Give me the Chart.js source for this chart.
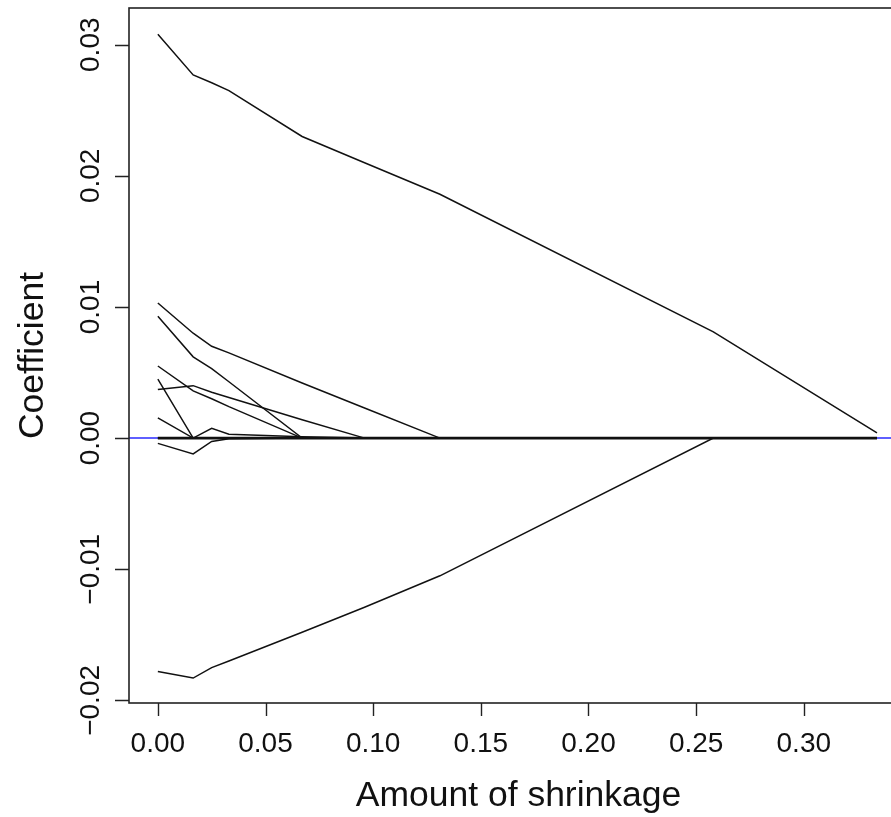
<!DOCTYPE html>
<html>
<head>
<meta charset="utf-8">
<script src="https://cdn.jsdelivr.net/npm/chart.js@4/dist/chart.umd.min.js"></script>
<style>
  html, body { margin: 0; padding: 0; background: #fff; overflow: hidden; }
  canvas { display: block; }
</style>
</head>
<body>
<canvas id="chart" width="909" height="817"></canvas>
<script>
// shrinkage steps along the path
const shrinkage = [0, 0.0164, 0.025, 0.033, 0.067, 0.096, 0.131, 0.258, 0.334];

// coefficient paths, one per predictor
const coefTop = [0.0308, 0.0277, 0.0271, 0.0265, 0.0230, 0.0210, 0.0186, 0.0081, 0.0004];
const coefA   = [0.0103, 0.0080, 0.0070, 0.0065, 0.0042, 0.0023, 0, 0, 0];
const coefB   = [0.0093, 0.0062, 0.0053, 0.0043, 0, 0, 0, 0, 0];
const coefC   = [0.0055, 0.0036, 0.0030, 0.0024, 0, 0, 0, 0, 0];
const coefD   = [0.0037, 0.0040, 0.0035, 0.0031, 0.0014, 0, 0, 0, 0];
const coefE   = [0.0045, 0, 0, 0, 0, 0, 0, 0, 0];
const coefF   = [0.00155, 0, 0, 0, 0, 0, 0, 0, 0];
const coefG   = [0, 0, 0.00074, 0.0003, 0.0001, 0, 0, 0, 0];
const coefH   = [-0.0004, -0.0012, -0.00025, -0.00005, 0, 0, 0, 0, 0];
const coefLow = [-0.0178, -0.0183, -0.0175, -0.0170, -0.0148, -0.0129, -0.0105, 0, 0];
const coefZero = [0, 0, 0, 0, 0, 0, 0, 0, 0];

const xTicks = [0, 0.05, 0.10, 0.15, 0.20, 0.25, 0.30];
const xTickLabels = ['0.00', '0.05', '0.10', '0.15', '0.20', '0.25', '0.30'];
const yTicks = [-0.02, -0.01, 0, 0.01, 0.02, 0.03];
const yTickLabels = ['\u22120.02', '\u22120.01', '0.00', '0.01', '0.02', '0.03'];

const FONT = '"Liberation Sans", Arial, Helvetica, sans-serif';

function path(vals, width) {
  return {
    data: shrinkage.map((x, i) => ({ x: x, y: vals[i] })),
    borderColor: '#111',
    borderWidth: width || 1.5,
    pointRadius: 0,
    fill: false,
    tension: 0
  };
}

// R style box, ticks and labels, drawn from the chart scales
const rAxes = {
  id: 'rAxes',
  beforeDatasetsDraw(chart) {
    const { ctx, chartArea: a, scales: { y } } = chart;
    const y0 = y.getPixelForValue(0);
    ctx.save();
    ctx.strokeStyle = '#2a2aff';
    ctx.lineWidth = 1.5;
    ctx.beginPath();
    ctx.moveTo(a.left, y0);
    ctx.lineTo(a.right, y0);
    ctx.stroke();
    ctx.restore();
  },
  afterDraw(chart) {
    const { ctx, chartArea: a, scales: { x, y } } = chart;
    ctx.save();
    ctx.strokeStyle = '#222';
    ctx.lineWidth = 1.6;
    ctx.strokeRect(a.left, a.top, a.right - a.left, a.bottom - a.top);

    ctx.lineWidth = 1.4;
    ctx.beginPath();
    xTicks.forEach(v => {
      const px = Math.round(x.getPixelForValue(v)) + 0.5;
      ctx.moveTo(px, a.bottom);
      ctx.lineTo(px, a.bottom + 13);
    });
    yTicks.forEach(v => {
      const py = Math.round(y.getPixelForValue(v)) + 0.5;
      ctx.moveTo(a.left, py);
      ctx.lineTo(a.left - 14, py);
    });
    ctx.stroke();

    ctx.fillStyle = '#111';
    ctx.font = '28px ' + FONT;
    ctx.textAlign = 'center';
    ctx.textBaseline = 'alphabetic';
    xTicks.forEach((v, i) => {
      ctx.fillText(xTickLabels[i], x.getPixelForValue(v), 752);
    });
    yTicks.forEach((v, i) => {
      ctx.save();
      ctx.translate(99, y.getPixelForValue(v));
      ctx.rotate(-Math.PI / 2);
      ctx.fillText(yTickLabels[i], 0, 0);
      ctx.restore();
    });

    ctx.font = '35.5px ' + FONT;
    ctx.fillText('Amount of shrinkage', (a.left + a.right) / 2, 806);
    ctx.save();
    ctx.translate(43, (a.top + a.bottom) / 2);
    ctx.rotate(-Math.PI / 2);
    ctx.fillText('Coefficient', 0, 0);
    ctx.restore();
    ctx.restore();
  }
};

new Chart(document.getElementById('chart'), {
  type: 'line',
  data: {
    datasets: [
      path(coefZero, 2.6),
      path(coefTop),
      path(coefA),
      path(coefB),
      path(coefC),
      path(coefD),
      path(coefE),
      path(coefF),
      path(coefG),
      path(coefH),
      path(coefLow)
    ]
  },
  options: {
    responsive: false,
    devicePixelRatio: 1,
    animation: false,
    layout: { padding: { left: 129, top: 8, right: 1, bottom: 114 } },
    plugins: { legend: { display: false }, tooltip: { enabled: false } },
    scales: {
      x: { type: 'linear', min: -0.0134, max: 0.3484, display: false },
      y: { type: 'linear', min: -0.0202, max: 0.0328, display: false }
    }
  },
  plugins: [rAxes]
});
</script>
</body>
</html>
